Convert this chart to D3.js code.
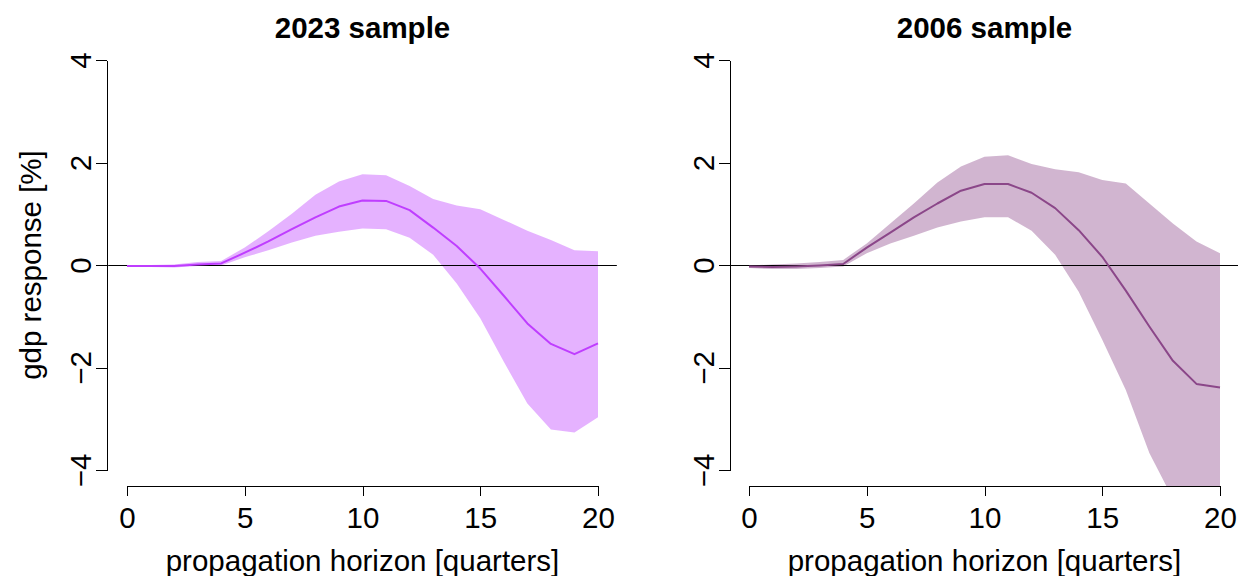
<!DOCTYPE html>
<html>
<head>
<meta charset="utf-8">
<script src="https://cdn.jsdelivr.net/npm/d3@7/dist/d3.min.js"></script>
<style>
  html, body { margin: 0; padding: 0; background: #fff; }
  svg { display: block; }
  text { font-family: "Liberation Sans", Arial, Helvetica, sans-serif; fill: #000; }
</style>
</head>
<body>
<svg id="chart" width="1238" height="576"></svg>
<script>
// ---- data ----
const horizon = [0,1,2,3,4,5,6,7,8,9,10,11,12,13,14,15,16,17,18,19,20];
const yTicks = [-4, -2, 0, 2, 4];
const xTicks = [0, 5, 10, 15, 20];

const median2023 = [-0.02,-0.02,-0.02,0.01,0.03,0.24,0.46,0.70,0.93,1.14,1.26,1.25,1.07,0.73,0.37,-0.07,-0.60,-1.14,-1.54,-1.74,-1.53];
const upper2023  = [-0.01,0.00,0.01,0.06,0.08,0.34,0.66,1.00,1.37,1.63,1.77,1.75,1.54,1.29,1.16,1.09,0.88,0.67,0.49,0.29,0.27];
const lower2023  = [-0.03,-0.04,-0.05,-0.02,-0.01,0.15,0.29,0.44,0.57,0.65,0.71,0.70,0.53,0.20,-0.36,-1.04,-1.89,-2.70,-3.21,-3.27,-2.97];

const median2006 = [-0.03,-0.04,-0.03,-0.01,0.02,0.34,0.63,0.93,1.20,1.45,1.58,1.58,1.41,1.11,0.68,0.16,-0.50,-1.20,-1.87,-2.32,-2.39];
const upper2006  = [-0.01,0.01,0.03,0.06,0.10,0.42,0.81,1.20,1.61,1.92,2.11,2.14,1.97,1.87,1.81,1.66,1.59,1.20,0.81,0.46,0.23];
const lower2006  = [-0.06,-0.08,-0.08,-0.06,-0.03,0.23,0.42,0.57,0.73,0.85,0.93,0.93,0.67,0.20,-0.52,-1.46,-2.44,-3.67,-4.56,-5.00,-5.30];

const titles = ["2023 sample", "2006 sample"];
const xLabel = "propagation horizon [quarters]";
const yLabel = "gdp response [%]";

// ---- layout ----
const svg = d3.select("#chart");
const FS = 29.5;
const panels = [
  { title: titles[0], med: median2023, lo: lower2023, hi: upper2023,
    x0: 127, x1: 598, axisX: 107, line: "#BF3EFF", fill: "rgba(191,62,255,0.4)", ylab: true },
  { title: titles[1], med: median2006, lo: lower2006, hi: upper2006,
    x0: 749, x1: 1220, axisX: 730, line: "#8B4789", fill: "rgba(139,71,137,0.4)", ylab: false }
];

panels.forEach((p, i) => {
  const x = d3.scaleLinear().domain([0, 20]).range([p.x0, p.x1]);
  const y = d3.scaleLinear().domain([-4, 4]).range([470, 60]);
  const g = svg.append("g");

  const clipId = "clip" + i;
  g.append("clipPath").attr("id", clipId).append("rect")
    .attr("x", x(-0.8)).attr("y", y(4.32))
    .attr("width", x(20.8) - x(-0.8)).attr("height", y(-4.32) - y(4.32));

  const plot = g.append("g").attr("clip-path", `url(#${clipId})`);

  const area = d3.area()
    .x((d, k) => x(horizon[k]))
    .y0((d, k) => y(p.lo[k]))
    .y1((d, k) => y(p.hi[k]));
  plot.append("path").datum(p.med).attr("d", area).attr("fill", p.fill).attr("stroke", "none");

  plot.append("line")
    .attr("x1", x(-0.8)).attr("x2", x(20.8))
    .attr("y1", y(0)).attr("y2", y(0))
    .attr("stroke", "#000").attr("stroke-width", 1)
    .attr("shape-rendering", "crispEdges");

  const line = d3.line().x((d, k) => x(horizon[k])).y(d => y(d));
  plot.append("path").datum(p.med).attr("d", line)
    .attr("fill", "none").attr("stroke", p.line).attr("stroke-width", 2)
    .attr("stroke-linejoin", "round");

  // y axis
  const ya = g.append("g").attr("transform", `translate(${p.axisX},0)`)
    .call(d3.axisLeft(y).tickValues(yTicks).tickSize(11).tickSizeOuter(0).tickFormat(d => d < 0 ? "\u2212" + Math.abs(d) : d));
  ya.selectAll("path, line").attr("stroke", "#000").attr("stroke-width", 1).attr("shape-rendering", "crispEdges");
  ya.selectAll("text")
    .attr("font-size", FS)
    .attr("x", null).attr("dy", null)
    .attr("text-anchor", "middle")
    .attr("transform", "translate(-16,0) rotate(-90)");
  ya.attr("font-family", null).attr("font-size", null);

  // x axis
  const xa = g.append("g").attr("transform", `translate(0,486)`)
    .call(d3.axisBottom(x).tickValues(xTicks).tickSize(10).tickSizeOuter(0));
  xa.selectAll("path, line").attr("stroke", "#000").attr("stroke-width", 1).attr("shape-rendering", "crispEdges");
  xa.selectAll("text").attr("font-size", FS).attr("y", 42).attr("dy", null);
  xa.attr("font-family", null).attr("font-size", null);

  // title
  g.append("text").attr("x", (p.x0 + p.x1) / 2).attr("y", 38)
    .attr("text-anchor", "middle").attr("font-weight", "bold").attr("font-size", FS)
    .text(p.title);

  // x label
  g.append("text").attr("x", (p.x0 + p.x1) / 2).attr("y", 571)
    .attr("text-anchor", "middle").attr("font-size", FS)
    .text(xLabel);

  if (p.ylab) {
    g.append("text").attr("transform", `translate(41,${y(0)}) rotate(-90)`)
      .attr("text-anchor", "middle").attr("font-size", FS)
      .text(yLabel);
  }
});
</script>
</body>
</html>
